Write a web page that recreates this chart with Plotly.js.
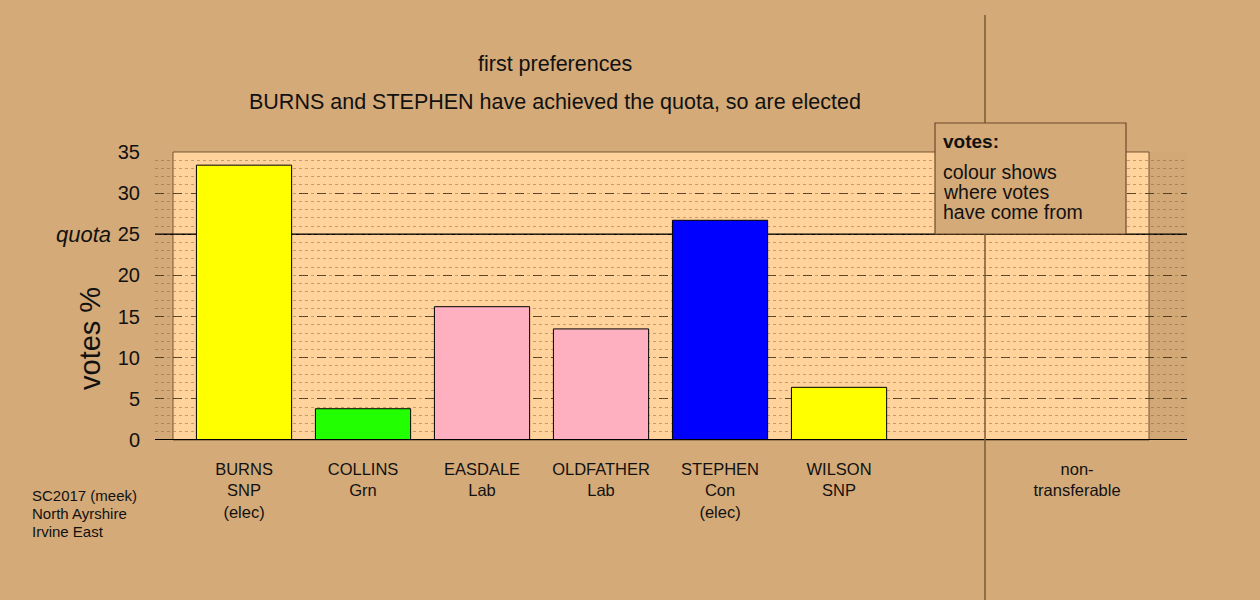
<!DOCTYPE html>
<html>
<head>
<meta charset="utf-8">
<script src="https://cdn.plot.ly/plotly-3.0.1.min.js"></script>
<style>
html,body{margin:0;padding:0;background:#D4AA78;}
#chart{width:1260px;height:600px;}
</style>
</head>
<body>
<div id="chart"></div>
<script>
// ---- data ----
const candidates = ["BURNS", "COLLINS", "EASDALE", "OLDFATHER", "STEPHEN", "WILSON", "non-"];
const parties = ["SNP", "Grn", "Lab", "Lab", "Con", "SNP", "transferable"];
const elected = [true, false, false, false, true, false, false];
const positions = [0, 1, 2, 3, 4, 5, 7];
const votesPct = [33.4, 3.8, 16.2, 13.5, 26.7, 6.4, 0];
const barColours = ["#FFFF00", "#22FF00", "#FFB0C0", "#FFB0C0", "#0000FF", "#FFFF00", "#FFFF00"];
const quota = 25;
const yTicks = [0, 5, 10, 15, 20, 25, 30, 35];
const titleLines = ["first preferences", "BURNS and STEPHEN have achieved the quota, so are elected"];
const infoLines = ["SC2017 (meek)", "North Ayrshire", "Irvine East"];
const legendTitle = "votes:";
const legendLines = ["colour shows", "where votes", "have come from"];

const FONT = "Liberation Sans, Arial, Helvetica, sans-serif";
const BG = "#D4AA78";

const tickText = candidates.map((c, i) =>
  c + "<br>" + parties[i] + (elected[i] ? "<br>(elec)" : ""));

const trace = {
  type: "bar",
  x: positions,
  y: votesPct,
  width: 0.8,
  marker: {color: barColours, line: {color: "#000000", width: 1}},
  hoverinfo: "skip"
};

const annotations = [];
annotations.push({xref: "paper", yref: "paper", x: 0.3876, y: (440 - 64) / 288, xanchor: "center", yanchor: "middle",
  text: titleLines[0], showarrow: false, font: {family: FONT, size: 21.5, color: "#111"}});
annotations.push({xref: "paper", yref: "paper", x: 0.3876, y: (440 - 102) / 288, xanchor: "center", yanchor: "middle",
  text: titleLines[1], showarrow: false, font: {family: FONT, size: 21.5, color: "#111"}});
annotations.push({xref: "paper", yref: "y", x: (113 - 155) / 1032, y: quota, xanchor: "right", yanchor: "middle",
  text: "<i>quota</i>", showarrow: false, font: {family: FONT, size: 22, color: "#111"}});
annotations.push({xref: "paper", yref: "paper", x: (90 - 155) / 1032, y: (440 - 339) / 288, xanchor: "center", yanchor: "middle",
  text: "votes %", textangle: -90, showarrow: false, font: {family: FONT, size: 29, color: "#111"}});
infoLines.forEach((t, i) => {
  annotations.push({xref: "paper", yref: "paper", x: (30 - 155) / 1032, y: (440 - (495 + 18 * i)) / 288,
    xanchor: "left", yanchor: "middle", text: t, showarrow: false, font: {family: FONT, size: 15, color: "#111"}});
});
annotations.push({xref: "paper", yref: "paper", x: (941 - 155) / 1032, y: (440 - 142) / 288,
  xanchor: "left", yanchor: "middle", text: "<b>" + legendTitle + "</b>", showarrow: false,
  font: {family: FONT, size: 19, color: "#111"}});
legendLines.forEach((t, i) => {
  annotations.push({xref: "paper", yref: "paper", x: (941 - 155) / 1032, y: (440 - (172 + 20 * i)) / 288,
    xanchor: "left", yanchor: "middle", text: t, showarrow: false, font: {family: FONT, size: 19.5, color: "#111"}});
});

const shapes = [
  // light panel
  {type: "rect", layer: "below", xref: "paper", yref: "paper", x0: (173 - 155) / 1032, x1: (1149 - 155) / 1032, y0: 0, y1: 1,
    fillcolor: "#FFD39B", line: {color: "rgba(90,60,30,0.8)", width: 1}},
  // shaded strip on right
  {type: "rect", layer: "below", xref: "paper", yref: "paper", x0: (1149 - 155) / 1032, x1: 1, y0: 0, y1: 1,
    fillcolor: "rgba(0,0,0,0.012)", line: {width: 0}},
  // quota line
  {type: "line", layer: "between", xref: "paper", yref: "y", x0: 0, x1: 1, y0: quota, y1: quota,
    line: {color: "#000", width: 1.6}},
  // baseline
  {type: "line", layer: "above", xref: "paper", yref: "y", x0: 0, x1: 1, y0: 0, y1: 0,
    line: {color: "#000", width: 2}},
  // separator
  {type: "line", layer: "above", xref: "paper", yref: "paper", x0: (985 - 155) / 1032, x1: (985 - 155) / 1032,
    y0: (440 - 15) / 288, y1: (440 - 600) / 288, line: {color: "#7a5a35", width: 1.5}},
  // legend box
  {type: "rect", layer: "above", xref: "paper", yref: "paper", x0: (935 - 155) / 1032, x1: (1126 - 155) / 1032,
    y0: (440 - 234) / 288, y1: (440 - 123) / 288, fillcolor: BG, line: {color: "#6b4a2a", width: 1.2}}
];

const layout = {
  width: 1260, height: 600,
  margin: {l: 155, r: 73, t: 152, b: 160},
  paper_bgcolor: BG,
  plot_bgcolor: "rgba(0,0,0,0)",
  showlegend: false,
  font: {family: FONT, color: "#111"},
  xaxis: {
    range: [-0.748, 7.924],
    tickvals: positions,
    ticktext: tickText,
    ticks: "outside", ticklen: 14, tickcolor: "rgba(0,0,0,0)",
    tickfont: {family: FONT, size: 16.5, color: "#111"},
    showgrid: false, zeroline: false, showline: false, fixedrange: true
  },
  yaxis: {
    range: [0, 35],
    tickvals: yTicks,
    ticks: "outside", ticklen: 10, tickcolor: "rgba(0,0,0,0)",
    tickfont: {family: FONT, size: 20, color: "#111"},
    showgrid: true, gridcolor: "rgba(50,35,15,0.75)", griddash: "dash", gridwidth: 1,
    minor: {dtick: 1, showgrid: true, gridcolor: "rgba(120,90,50,0.45)", griddash: "dot", gridwidth: 1},
    zeroline: false, showline: false, fixedrange: true
  },
  shapes: shapes,
  annotations: annotations
};

Plotly.newPlot("chart", [trace], layout, {displayModeBar: false, staticPlot: true});
</script>
</body>
</html>
